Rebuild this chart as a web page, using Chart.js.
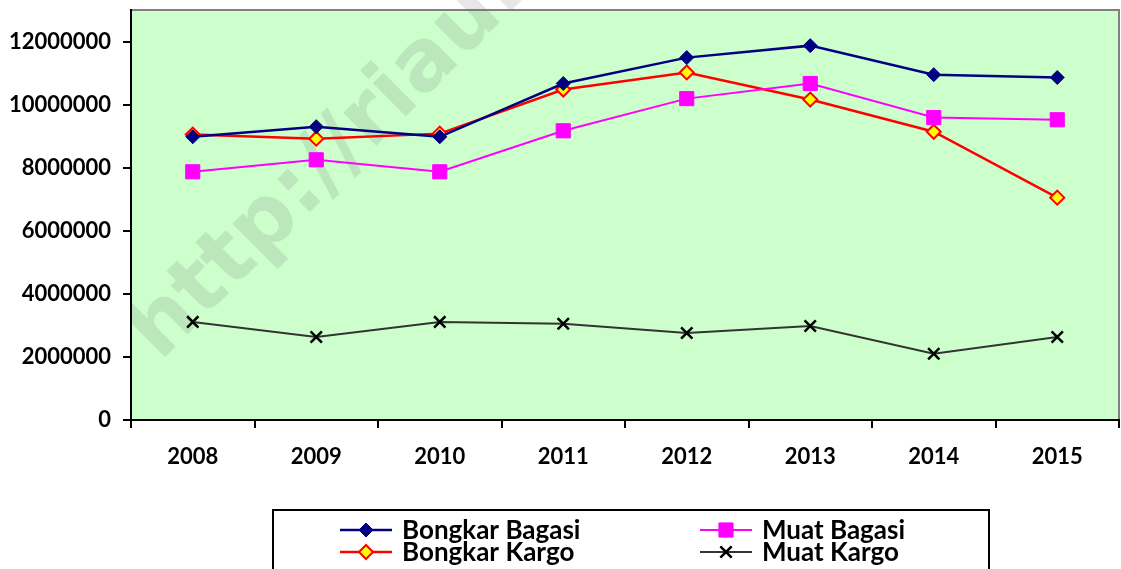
<!DOCTYPE html>
<html>
<head>
<meta charset="utf-8">
<script src="https://cdn.jsdelivr.net/npm/chart.js@4/dist/chart.umd.min.js"></script>
<style>
  html, body { margin: 0; padding: 0; background: #fff; overflow: hidden; }
</style>
</head>
<body>
<canvas id="bagasiChart" width="1121" height="569"></canvas>
<script>
'use strict'

// DATA
const years = ['2008', '2009', '2010', '2011', '2012', '2013', '2014', '2015'];
const seriesNames = ['Bongkar Bagasi', 'Muat Bagasi', 'Bongkar Kargo', 'Muat Kargo'];
const bongkarBagasi = [8980000, 9300000, 8980000, 10670000, 11490000, 11870000, 10950000, 10860000];
const muatBagasi = [7870000, 8250000, 7870000, 9170000, 10190000, 10670000, 9590000, 9520000];
const bongkarKargo = [9050000, 8920000, 9080000, 10480000, 11020000, 10160000, 9140000, 7050000];
const muatKargo = [3110000, 2630000, 3110000, 3050000, 2760000, 2980000, 2100000, 2630000];
const yTicks = [0, 2000000, 4000000, 6000000, 8000000, 10000000, 12000000];

const tickFont = { family: 'Lato', weight: 'bold', size: 22 };

//SET DATASETS
const datasets = [
  {
    label: seriesNames[0], data: bongkarBagasi,
    borderColor: '#000080', borderWidth: 2.5,
    pointStyle: 'rectRot', pointRadius: 7,
    pointBackgroundColor: '#000080', pointBorderColor: '#000080', pointBorderWidth: 1
  },
  {
    label: seriesNames[1], data: muatBagasi,
    borderColor: '#FF00FF', borderWidth: 2,
    pointStyle: 'rect', pointRadius: 10,
    pointBackgroundColor: '#FF00FF', pointBorderColor: '#FF00FF', pointBorderWidth: 1
  },
  {
    label: seriesNames[2], data: bongkarKargo,
    borderColor: '#FF0000', borderWidth: 2.5,
    pointStyle: 'rectRot', pointRadius: 7,
    pointBackgroundColor: '#FFFF00', pointBorderColor: '#FF0000', pointBorderWidth: 2
  },
  {
    label: seriesNames[3], data: muatKargo,
    borderColor: '#333333', borderWidth: 2,
    pointStyle: 'crossRot', pointRadius: 8,
    pointBackgroundColor: '#000000', pointBorderColor: '#000000', pointBorderWidth: 2.5
  }
];
datasets.forEach(function(ds){ ds.tension = 0; ds.fill = false; });

//background + watermark
const plotBg = {
  id: 'plotBg',
  beforeDraw(chart) {
    const ctx = chart.ctx;
    const a = chart.chartArea;
    ctx.save();
    ctx.fillStyle = '#CCFFCC';
    ctx.fillRect(a.left, a.top, a.right - a.left, a.bottom - a.top);
    ctx.strokeStyle = '#808080';
    ctx.lineWidth = 2;
    ctx.beginPath();
    ctx.moveTo(a.left, a.top);
    ctx.lineTo(a.right, a.top);
    ctx.lineTo(a.right, a.bottom);
    ctx.stroke();

    // watermark (not over the left margin)
    ctx.beginPath();
    ctx.rect(a.left, 0, chart.width - a.left, a.bottom);
    ctx.clip();
    ctx.translate(160, 362);
    ctx.rotate(-Math.PI / 4);
    ctx.font = 'bold 85px "DejaVu Sans"';
    ctx.fillStyle = 'rgba(108,108,108,0.16)';
    ctx.textBaseline = 'alphabetic';
    ctx.fillText('http://riau.ac.id', 0, 0);
    ctx.restore();
  }
};

function drawMarker(ctx, ds, x, y) {
  ctx.save();
  ctx.fillStyle = ds.pointBackgroundColor;
  ctx.strokeStyle = ds.pointBorderColor;
  ctx.lineWidth = ds.pointBorderWidth;
  Chart.helpers.drawPoint(ctx, {
    pointStyle: ds.pointStyle, radius: ds.pointRadius, rotation: 0, borderWidth: ds.pointBorderWidth
  }, x, y);
  ctx.restore();
}

//legend box under the chart
const boxLegend = {
  id: 'boxLegend',
  afterDraw(chart) {
    const ctx = chart.ctx;
    ctx.save();
    ctx.strokeStyle = '#000';
    ctx.lineWidth = 2;
    ctx.strokeRect(273, 510, 716, 70);

    const cols = [340, 700];
    const rows = [530, 552];
    const order = [0, 2, 1, 3]; // col1: row1,row2 ; col2: row1,row2
    order.forEach(function(idx, i) {
      const ds = chart.data.datasets[idx];
      const x0 = cols[Math.floor(i / 2)];
      const y = rows[i % 2];
      ctx.strokeStyle = ds.borderColor;
      ctx.lineWidth = ds.borderWidth;
      ctx.beginPath();
      ctx.moveTo(x0, y);
      ctx.lineTo(x0 + 52, y);
      ctx.stroke();
      drawMarker(ctx, ds, x0 + 26, y);
      ctx.fillStyle = '#000';
      ctx.font = 'bold 26px Lato';
      ctx.textBaseline = 'middle';
      ctx.textAlign = 'left';
      ctx.fillText(ds.label, x0 + 62, y + 1);
    });
    ctx.restore();
  }
};

//BUILD CHART
const ctx = document.getElementById('bagasiChart').getContext('2d');
const bagasiChart = new Chart(ctx, {
  type: 'line',
  data: { labels: years, datasets: datasets },
  plugins: [plotBg, boxLegend],
  options: {
    responsive: false,
    animation: false,
    devicePixelRatio: 1,
    layout: { autoPadding: false, padding: { left: 0, top: 10, right: 2, bottom: 0 } },
    plugins: { legend: { display: false }, tooltip: { enabled: false } },
    scales: {
      x: {
        offset: true,
        grid: { offset: true, drawOnChartArea: false, drawTicks: true, tickLength: 8, color: '#000', lineWidth: 2 },
        border: { color: '#000', width: 2 },
        ticks: { font: tickFont, color: '#000', padding: 16, maxRotation: 0 },
        afterFit(s) { s.height = 149; s.paddingLeft = 0; s.paddingRight = 0; }
      },
      y: {
        min: 0,
        max: 13000000,
        afterBuildTicks(s) { s.ticks = yTicks.map(function(v){ return { value: v }; }); },
        grid: { drawOnChartArea: false, drawTicks: true, tickLength: 8, color: '#000', lineWidth: 2 },
        border: { color: '#000', width: 2 },
        ticks: { font: tickFont, color: '#000', padding: 12, callback: function(v){ return String(v); } },
        afterFit(s) { s.width = 131; s.paddingTop = 0; s.paddingBottom = 0; }
      }
    }
  }
});
</script>
</body>
</html>
